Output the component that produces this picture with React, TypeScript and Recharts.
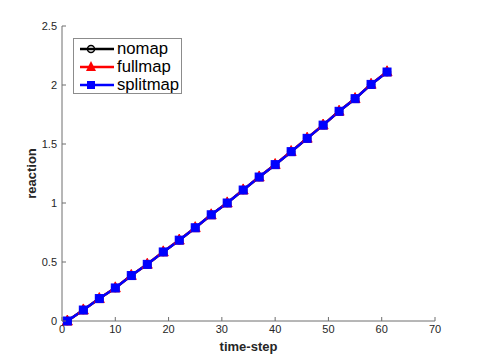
import { LineChart, Line, XAxis, YAxis } from 'recharts';

const steps = [1, 4, 7, 10, 13, 16, 19, 22, 25, 28, 31, 34, 37, 40, 43, 46, 49, 52, 55, 58, 61];
const nomap = [0, 0.093, 0.19, 0.28, 0.385, 0.48, 0.585, 0.685, 0.79, 0.9, 1.0, 1.11, 1.22, 1.325, 1.435, 1.548, 1.66, 1.777, 1.884, 2.005, 2.11];
const fullmap = [0, 0.094, 0.19, 0.281, 0.386, 0.481, 0.586, 0.686, 0.791, 0.9, 1.001, 1.111, 1.221, 1.326, 1.436, 1.549, 1.661, 1.778, 1.885, 2.006, 2.112];
const splitmap = [0, 0.093, 0.19, 0.28, 0.385, 0.48, 0.585, 0.685, 0.79, 0.9, 1.0, 1.11, 1.22, 1.325, 1.435, 1.548, 1.66, 1.777, 1.884, 2.005, 2.11];
const xTicks = [0, 10, 20, 30, 40, 50, 60, 70];
const yTicks = [0, 0.5, 1, 1.5, 2, 2.5];
const seriesNames = ['nomap', 'fullmap', 'splitmap'];

const data = steps.map((s, i) => ({ step: s, nomap: nomap[i], fullmap: fullmap[i], splitmap: splitmap[i] }));

const FONT = 'Liberation Sans, Arial, Helvetica, sans-serif';
const AXIS = '#6e6e6e';
const TEXT = '#262626';

const XTick = (props: any) => {
  const { x, y, payload } = props;
  return (
    <g>
      <line x1={x} x2={x} y1={y - 4} y2={y - 8} stroke={AXIS} strokeWidth={1} />
      <text x={x} y={y} dy="0.75em" textAnchor="middle" fontSize={11} fill={TEXT} fontFamily={FONT}>
        {payload.value}
      </text>
    </g>
  );
};

const YTick = (props: any) => {
  const { x, y, payload } = props;
  return (
    <g>
      <line x1={x + 5} x2={x + 9} y1={y} y2={y} stroke={AXIS} strokeWidth={1} />
      <text x={x} y={y} dy="0.36em" textAnchor="end" fontSize={11} fill={TEXT} fontFamily={FONT}>
        {payload.value}
      </text>
    </g>
  );
};

const CircleDot = (props: any) => {
  const { cx, cy } = props;
  return <circle cx={cx} cy={cy} r={3.5} fill="none" stroke="#000" strokeWidth={1.5} />;
};

const TriDot = (props: any) => {
  const { cx, cy } = props;
  return <polygon points={`${cx},${cy - 6} ${cx - 5},${cy + 4} ${cx + 5},${cy + 4}`} fill="#ff0000" stroke="#ff0000" strokeWidth={1} />;
};

const SquareDot = (props: any) => {
  const { cx, cy } = props;
  return <rect x={cx - 4} y={cy - 4} width={8} height={8} fill="#0000ff" stroke="#0000ff" strokeWidth={1} />;
};

const legendColors = ['#000000', '#ff0000', '#0000ff'];

const LegendMarker = ({ i }: { i: number }) => {
  if (i === 0) return <circle cx={17} cy={10} r={3.5} fill="none" stroke="#000" strokeWidth={1.5} />;
  if (i === 1) return <polygon points="17,4 12,14 22,14" fill="#ff0000" />;
  return <rect x={13} y={6} width={8} height={8} fill="#0000ff" />;
};

const LegendBox = () => (
  <div
    style={{
      position: 'absolute',
      left: 73,
      top: 38,
      width: 109,
      height: 56,
      border: '1px solid #8c8c8c',
      background: '#fff',
      boxSizing: 'border-box',
      fontFamily: FONT,
      fontSize: 16.7,
      color: '#000',
      paddingTop: 0,
    }}
  >
    {seriesNames.map((n, i) => (
      <div key={n} style={{ position: 'absolute', left: 0, top: 1 + i * 18, height: 18, display: 'flex', alignItems: 'center' }}>
        <svg width={42} height={20} style={{ display: 'block' }}>
          <line x1={6} x2={40} y1={10} y2={10} stroke={legendColors[i]} strokeWidth={2.5} />
          <LegendMarker i={i} />
        </svg>
        <span style={{ marginLeft: 1, lineHeight: '18px' }}>{n}</span>
      </div>
    ))}
  </div>
);

export default function App() {
  return (
    <div style={{ position: 'absolute', left: 0, top: 0, width: 482, height: 361, background: '#fff' }}>
      <LineChart width={482} height={361} data={data} margin={{ top: 26, right: 47, bottom: 0, left: 0 }}>
        <XAxis
          dataKey="step"
          type="number"
          domain={[0, 70]}
          ticks={xTicks}
          height={40}
          tickSize={0}
          tickMargin={4}
          tick={<XTick />}
          stroke={AXIS}
          interval={0}
          label={{
            content: (p: any) => (
              <text
                x={p.viewBox.x + p.viewBox.width / 2}
                y={p.viewBox.y + 30}
                textAnchor="middle"
                fontSize={13}
                fontWeight="bold"
                fill={TEXT}
                fontFamily={FONT}
              >
                time-step
              </text>
            ),
          }}
        />
        <YAxis
          type="number"
          domain={[0, 2.5]}
          ticks={yTicks}
          width={62}
          tickSize={0}
          tickMargin={5}
          tick={<YTick />}
          stroke={AXIS}
          interval={0}
          label={{
            content: (p: any) => {
              const cx = p.viewBox.x + 36;
              const cy = p.viewBox.y + p.viewBox.height / 2;
              return (
                <text
                  x={cx}
                  y={cy}
                  transform={`rotate(-90 ${cx} ${cy})`}
                  textAnchor="middle"
                  fontSize={13}
                  fontWeight="bold"
                  fill={TEXT}
                  fontFamily={FONT}
                >
                  reaction
                </text>
              );
            },
          }}
        />
        <Line dataKey="nomap" stroke="#000000" strokeWidth={2.5} dot={<CircleDot />} isAnimationActive={false} />
        <Line dataKey="fullmap" stroke="#ff0000" strokeWidth={2.5} dot={<TriDot />} isAnimationActive={false} />
        <Line dataKey="splitmap" stroke="#0000ff" strokeWidth={2.5} dot={<SquareDot />} isAnimationActive={false} />
      </LineChart>
      <LegendBox />
    </div>
  );
}
